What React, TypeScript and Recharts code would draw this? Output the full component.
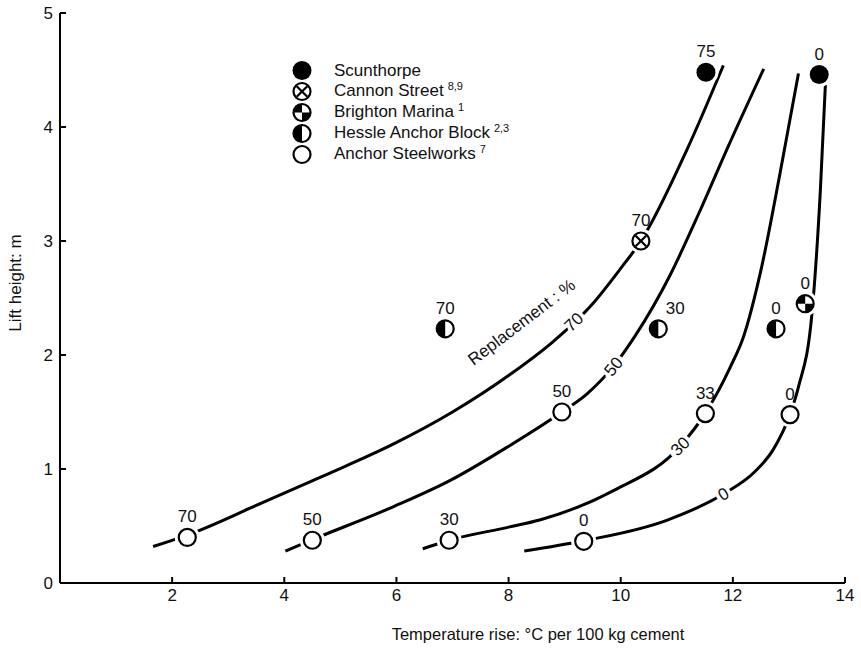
import { ComposedChart, Label, Legend, Line, Scatter, XAxis, YAxis } from "recharts";

const FONT = '"Liberation Sans", Arial, Helvetica, sans-serif';

const X_TICKS = [2, 4, 6, 8, 10, 12, 14];
const Y_TICKS = [0, 1, 2, 3, 4, 5];

// lines of equal cement replacement (%): temperature rise vs lift height
const CURVE_70 = [
  { x: 1.66, y: 0.32 },
  { x: 2.27, y: 0.42 },
  { x: 3.5, y: 0.68 },
  { x: 4.7, y: 0.94 },
  { x: 5.95, y: 1.22 },
  { x: 7.0, y: 1.5 },
  { x: 8.0, y: 1.82 },
  { x: 8.8, y: 2.12 },
  { x: 9.5, y: 2.45 },
  { x: 10.0, y: 2.76 },
  { x: 10.36, y: 3.0 },
  { x: 11.18, y: 3.8 },
  { x: 11.83, y: 4.54 },
];
const CURVE_50 = [
  { x: 4.02, y: 0.28 },
  { x: 4.5, y: 0.38 },
  { x: 5.95, y: 0.67 },
  { x: 6.96, y: 0.9 },
  { x: 7.97, y: 1.19 },
  { x: 8.95, y: 1.5 },
  { x: 9.4, y: 1.66 },
  { x: 9.87, y: 1.9 },
  { x: 10.26, y: 2.17 },
  { x: 10.88, y: 2.7 },
  { x: 11.4, y: 3.25 },
  { x: 11.89, y: 3.8 },
  { x: 12.55, y: 4.51 },
];
const CURVE_30 = [
  { x: 6.47, y: 0.3 },
  { x: 6.94, y: 0.375 },
  { x: 8.0, y: 0.49 },
  { x: 8.57, y: 0.555 },
  { x: 9.87, y: 0.81 },
  { x: 11.06, y: 1.2 },
  { x: 11.51, y: 1.49 },
  { x: 11.95, y: 1.89 },
  { x: 12.19, y: 2.16 },
  { x: 12.49, y: 2.72 },
  { x: 12.84, y: 3.59 },
  { x: 13.17, y: 4.47 },
];
const CURVE_0 = [
  { x: 8.28, y: 0.28 },
  { x: 9.34, y: 0.37 },
  { x: 10.82, y: 0.55 },
  { x: 11.83, y: 0.78 },
  { x: 12.4, y: 0.98 },
  { x: 12.72, y: 1.17 },
  { x: 13.02, y: 1.48 },
  { x: 13.17, y: 1.72 },
  { x: 13.41, y: 2.36 },
  { x: 13.56, y: 3.44 },
  { x: 13.65, y: 4.37 },
];

const CURVES: Record<string, { x: number; y: number }[]> = {
  "70": CURVE_70,
  "50": CURVE_50,
  "30": CURVE_30,
  "0": CURVE_0,
};

// where each curve carries its own label
const CURVE_LABEL_AT = [
  { curve: "70", x: 9.16 },
  { curve: "50", x: 9.87 },
  { curve: "30", x: 11.06 },
  { curve: "0", x: 11.83 },
];

// site measurements, label = replacement %
const SCUNTHORPE = [
  { x: 11.52, y: 4.48, pct: "75" },
  { x: 13.54, y: 4.46, pct: "0" },
];
const CANNON_STREET = [{ x: 10.36, y: 3.0, pct: "70" }];
const BRIGHTON_MARINA = [{ x: 13.29, y: 2.45, pct: "0" }];
const HESSLE = [
  { x: 6.87, y: 2.23, pct: "70" },
  { x: 10.67, y: 2.23, pct: "30" },
  { x: 12.77, y: 2.23, pct: "0" },
];
const ANCHOR = [
  { x: 2.27, y: 0.4, pct: "70" },
  { x: 4.5, y: 0.375, pct: "50" },
  { x: 6.94, y: 0.375, pct: "30" },
  { x: 9.34, y: 0.366, pct: "0" },
  { x: 8.95, y: 1.5, pct: "50" },
  { x: 11.51, y: 1.486, pct: "33" },
  { x: 13.02, y: 1.477, pct: "0" },
];

type Kind = "solid" | "cross" | "quarter" | "half" | "open";

const LEGEND_ITEMS: { name: string; note: string; kind: Kind }[] = [
  { name: "Scunthorpe", note: "", kind: "solid" },
  { name: "Cannon Street", note: "8,9", kind: "cross" },
  { name: "Brighton Marina", note: "1", kind: "quarter" },
  { name: "Hessle Anchor Block", note: "2,3", kind: "half" },
  { name: "Anchor Steelworks", note: "7", kind: "open" },
];

// sideways shift for a few point labels
const LABEL_NUDGE: Record<string, number> = { "half-30": 17 };

const PX_PER_X = 785 / 14;
const PX_PER_Y = 570 / 5;

function interp(curve: { x: number; y: number }[], x: number) {
  for (let i = 0; i < curve.length - 1; i++) {
    const a = curve[i];
    const b = curve[i + 1];
    if (x >= a.x && x <= b.x) return a.y + ((x - a.x) / (b.x - a.x)) * (b.y - a.y);
  }
  return curve[curve.length - 1].y;
}

function angleAt(curve: { x: number; y: number }[], x: number) {
  const h = 0.2;
  const slope = (interp(curve, x + h) - interp(curve, x - h)) / (2 * h);
  return (-Math.atan((slope * PX_PER_Y) / PX_PER_X) * 180) / Math.PI;
}

const CURVE_LABELS = CURVE_LABEL_AT.map((d) => ({
  x: d.x,
  y: interp(CURVES[d.curve], d.x),
  text: d.curve,
  angle: angleAt(CURVES[d.curve], d.x),
  halo: true,
}));

const NOTES = [
  {
    x: 8.23,
    y: 2.29,
    text: "Replacement : %",
    angle: angleAt(CURVE_70, 8.23),
    halo: false,
  },
];

function Mark({ kind, cx, cy, halo = true }: { kind: Kind; cx: number; cy: number; halo?: boolean }) {
  const r = 8.5;
  const sw = 2.2;
  const d = r * 0.62;
  return (
    <g>
      {halo && <circle cx={cx} cy={cy} r={r + 4} fill="#fff" />}
      {kind === "solid" && <circle cx={cx} cy={cy} r={r + 1} fill="#000" />}
      {kind === "open" && <circle cx={cx} cy={cy} r={r} fill="#fff" stroke="#000" strokeWidth={sw} />}
      {kind === "cross" && (
        <g stroke="#000" strokeWidth={sw}>
          <circle cx={cx} cy={cy} r={r} fill="#fff" />
          <line x1={cx - d} y1={cy - d} x2={cx + d} y2={cy + d} />
          <line x1={cx - d} y1={cy + d} x2={cx + d} y2={cy - d} />
        </g>
      )}
      {kind === "quarter" && (
        <g>
          <circle cx={cx} cy={cy} r={r} fill="#fff" stroke="#000" strokeWidth={sw} />
          <path d={`M${cx},${cy} L${cx - r},${cy} A${r},${r} 0 0 1 ${cx},${cy - r} Z`} fill="#000" />
          <path d={`M${cx},${cy} L${cx + r},${cy} A${r},${r} 0 0 1 ${cx},${cy + r} Z`} fill="#000" />
        </g>
      )}
      {kind === "half" && (
        <g>
          <circle cx={cx} cy={cy} r={r} fill="#fff" stroke="#000" strokeWidth={sw} />
          <path d={`M${cx},${cy - r} A${r},${r} 0 0 0 ${cx},${cy + r} Z`} fill="#000" />
        </g>
      )}
    </g>
  );
}

const pointShape = (kind: Kind) => (props: any) => {
  const { cx, cy, payload } = props;
  const dx = LABEL_NUDGE[`${kind}-${payload.pct}`] ?? 0;
  return (
    <g>
      <Mark kind={kind} cx={cx} cy={cy} />
      <text x={cx + dx} y={cy - 15} textAnchor="middle" fontSize={17} fontFamily={FONT} fill="#111">
        {payload.pct}
      </text>
    </g>
  );
};

const textShape = (props: any) => {
  const { cx, cy, payload } = props;
  return (
    <text
      x={cx}
      y={cy}
      dy="0.35em"
      textAnchor="middle"
      fontSize={17}
      fontFamily={FONT}
      fill="#111"
      stroke={payload.halo ? "#fff" : "none"}
      strokeWidth={payload.halo ? 7 : 0}
      paintOrder="stroke"
      transform={`rotate(${payload.angle}, ${cx}, ${cy})`}
    >
      {payload.text}
    </text>
  );
};

function LegendBox() {
  return (
    <div style={{ fontFamily: FONT, fontSize: 17, color: "#111" }}>
      {LEGEND_ITEMS.map((item) => (
        <div key={item.name} style={{ display: "flex", alignItems: "center", height: 21 }}>
          <svg width={22} height={21} style={{ display: "block" }}>
            <Mark kind={item.kind} cx={11} cy={10.5} halo={false} />
          </svg>
          <span style={{ marginLeft: 21, whiteSpace: "nowrap", lineHeight: "21px" }}>
            {item.name}
            {item.note && (
              <span style={{ fontSize: 11, marginLeft: 4, position: "relative", top: -6 }}>{item.note}</span>
            )}
          </span>
        </div>
      ))}
    </div>
  );
}

const axisStroke = { stroke: "#000", strokeWidth: 2 };

export default function App() {
  return (
    <div style={{ position: "absolute", left: 0, top: 0, width: 861, height: 652, background: "#fff", fontFamily: FONT }}>
      <ComposedChart width={861} height={652} margin={{ top: 13, right: 16, bottom: 0, left: 0 }}>
        <XAxis
          type="number"
          dataKey="x"
          domain={[0, 14]}
          ticks={X_TICKS}
          allowDataOverflow
          height={69}
          tickSize={-6}
          tickMargin={12}
          axisLine={axisStroke}
          tickLine={axisStroke}
          tick={{ fill: "#111", fontSize: 17, fontFamily: FONT }}
        >
          <Label
            content={() => (
              <text x={538} y={640} textAnchor="middle" fontSize={16.5} fontFamily={FONT} fill="#111">
                Temperature rise: °C per 100 kg cement
              </text>
            )}
          />
        </XAxis>
        <YAxis
          type="number"
          dataKey="y"
          domain={[0, 5]}
          ticks={Y_TICKS}
          allowDataOverflow
          width={60}
          tickSize={-6}
          tickMargin={13}
          axisLine={axisStroke}
          tickLine={axisStroke}
          tick={{ fill: "#111", fontSize: 17, fontFamily: FONT }}
        >
          <Label
            content={() => (
              <text
                x={15}
                y={283}
                dy="0.35em"
                textAnchor="middle"
                fontSize={17}
                fontFamily={FONT}
                fill="#111"
                transform="rotate(-90, 15, 283)"
              >
                Lift height: m
              </text>
            )}
          />
        </YAxis>
        <Legend
          layout="vertical"
          align="center"
          verticalAlign="middle"
          wrapperStyle={{ left: 291, top: 60, width: 260 }}
          content={() => <LegendBox />}
        />
        {Object.entries(CURVES).map(([name, data]) => (
          <Line
            key={name}
            data={data}
            dataKey="y"
            type="monotone"
            stroke="#000"
            strokeWidth={3}
            dot={false}
            activeDot={false}
            legendType="none"
            isAnimationActive={false}
          />
        ))}
        <Scatter data={SCUNTHORPE} shape={pointShape("solid")} isAnimationActive={false} />
        <Scatter data={CANNON_STREET} shape={pointShape("cross")} isAnimationActive={false} />
        <Scatter data={BRIGHTON_MARINA} shape={pointShape("quarter")} isAnimationActive={false} />
        <Scatter data={HESSLE} shape={pointShape("half")} isAnimationActive={false} />
        <Scatter data={ANCHOR} shape={pointShape("open")} isAnimationActive={false} />
        <Scatter data={CURVE_LABELS} shape={textShape} isAnimationActive={false} />
        <Scatter data={NOTES} shape={textShape} isAnimationActive={false} />
      </ComposedChart>
    </div>
  );
}
